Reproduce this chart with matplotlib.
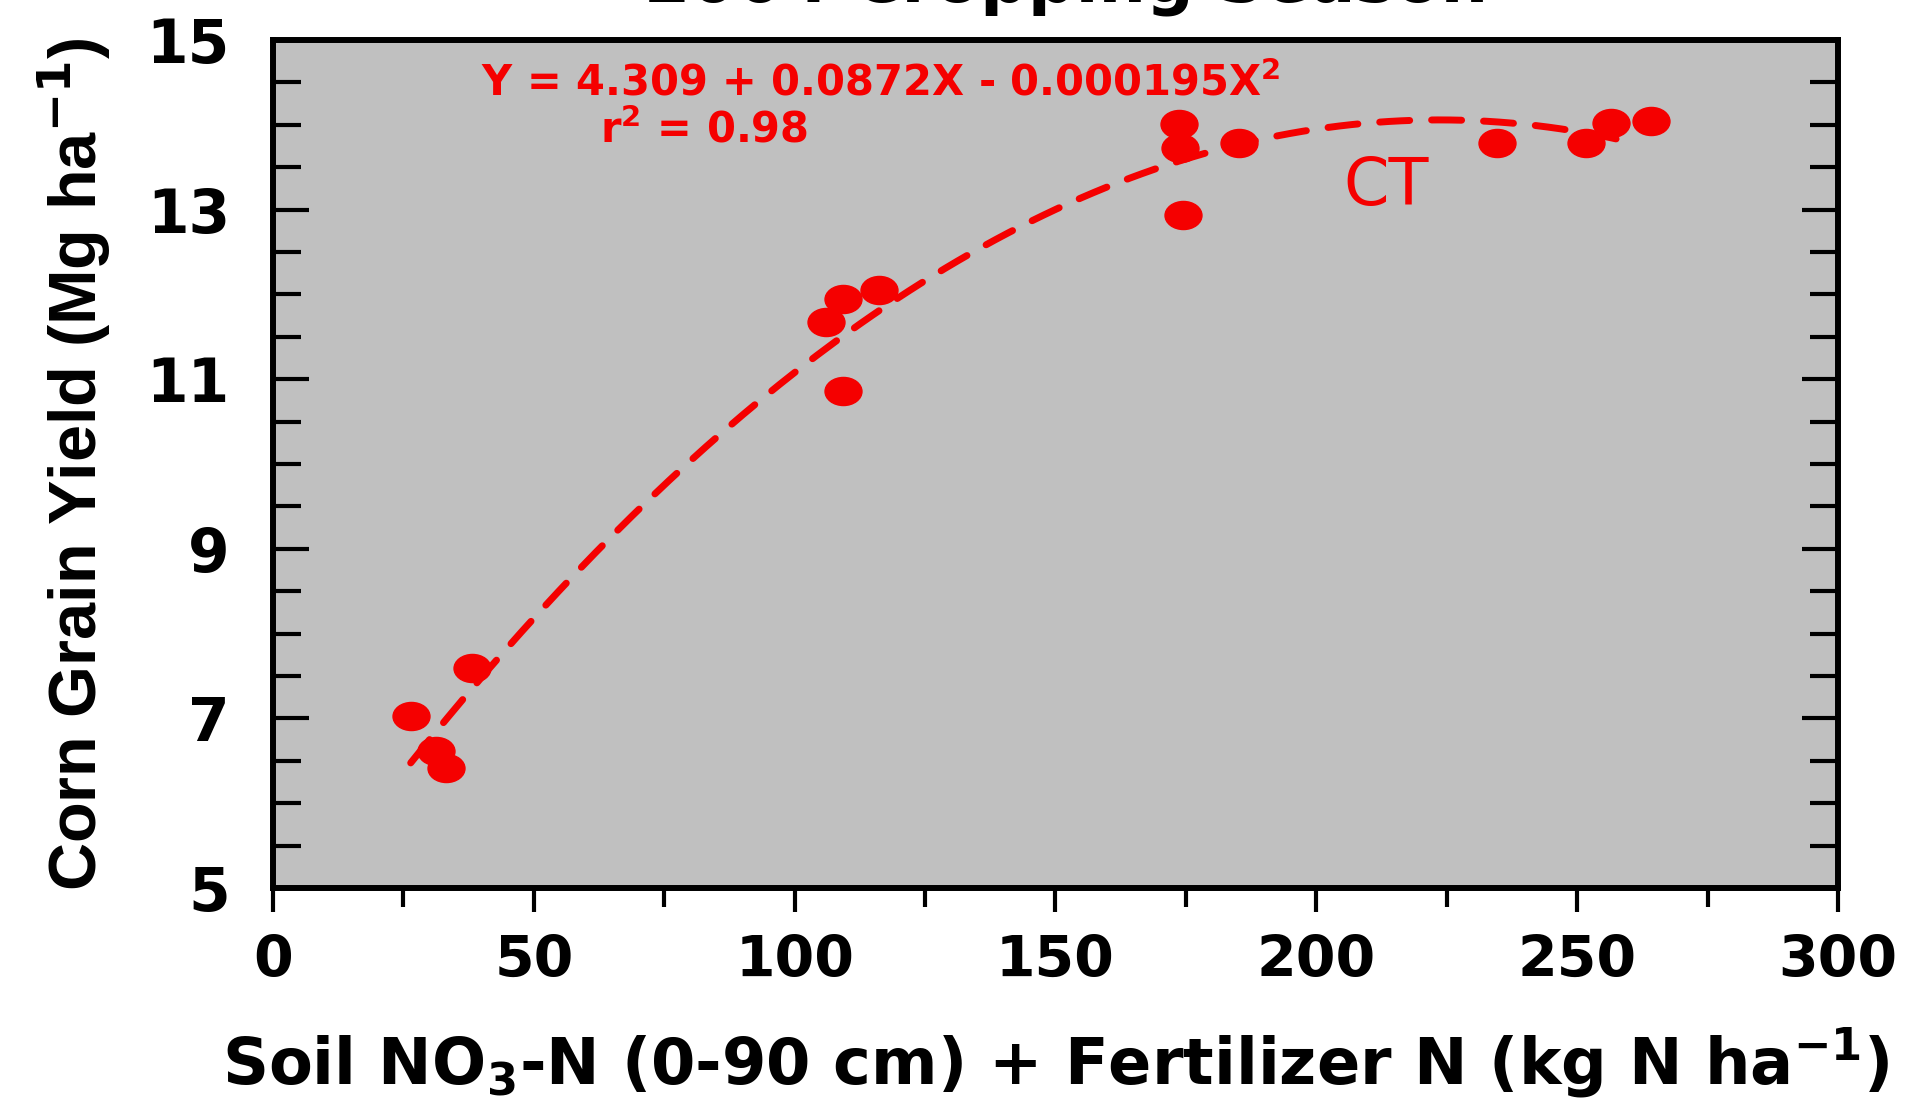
import numpy as np
import matplotlib
matplotlib.use('Agg')
import matplotlib.pyplot as plt
from matplotlib.path import Path
from matplotlib.transforms import Affine2D
from matplotlib.ticker import MultipleLocator, FixedLocator

# data
n_supply = [26.4, 31.3, 33.2, 38.2, 106.0, 109.3, 109.3, 116.2,
            173.7, 173.9, 174.4, 185.2, 234.7, 251.7, 256.4, 264.2]
grain_yield = [7.03, 6.61, 6.41, 7.60, 11.68, 11.95, 10.86, 12.05,
               14.01, 13.73, 12.94, 13.78, 13.78, 13.78, 14.02, 14.04]
# quadratic fit printed on the chart
b0, b1, b2 = 4.309, 0.0872, -0.000195
fit_start, fit_end = 26.4, 261.0
y_labels = [5, 7, 9, 11, 13, 15]

plt.rcParams['font.family'] = ['DejaVu Sans']
plt.rcParams['font.weight'] = 'bold'
plt.rcParams['mathtext.fontset'] = 'custom'
plt.rcParams['mathtext.rm'] = 'DejaVu Sans:bold'
plt.rcParams['mathtext.it'] = 'DejaVu Sans:bold'
plt.rcParams['mathtext.bf'] = 'DejaVu Sans:bold'
plt.rcParams['lines.scale_dashes'] = False

red = '#f50000'
fig = plt.figure(figsize=(19.21, 11.17), dpi=100)
ax = fig.add_axes([0.1421, 0.2050, 0.9568 - 0.1421, 0.9642 - 0.2050])
ax.set_facecolor('#c0c0c0')

# elliptical marker, wider than tall
ell = Path.unit_circle().transformed(Affine2D().scale(1.0, 0.76))

xf = np.linspace(fit_start, fit_end, 200)
yf = b0 + b1 * xf + b2 * xf ** 2
line, = ax.plot(xf, yf, color=red, lw=5, dash_capstyle='round')
line.set_dashes((21.6, 15.8))
ax.plot(n_supply, grain_yield, ls='none', marker=ell, ms=26.6,
        color=red, mec=red)

ax.set_xlim(0, 300)
ax.set_ylim(5, 15)
ax.xaxis.set_major_locator(MultipleLocator(50))
ax.xaxis.set_minor_locator(MultipleLocator(25))
ax.yaxis.set_major_locator(FixedLocator(y_labels))
ax.yaxis.set_minor_locator(MultipleLocator(0.5))
ax.yaxis.set_major_formatter(matplotlib.ticker.FormatStrFormatter('%d'))

ax.tick_params(axis='x', which='major', direction='out', length=17, width=3,
               labelsize=41, pad=16, top=False)
ax.tick_params(axis='x', which='minor', direction='out', length=14, width=3,
               top=False)
ax.tick_params(axis='y', which='major', direction='in', length=26, width=3,
               labelsize=43, pad=31, right=True)
ax.tick_params(axis='y', which='minor', direction='in', length=20, width=3,
               right=True)
for s in ax.spines.values():
    s.set_linewidth(4.3)

ax.set_xlabel('Soil NO$_3$-N (0-90 cm) + Fertilizer N (kg N ha$^{-1}$)',
              fontsize=46, fontweight='bold', labelpad=26)
ax.set_ylabel('Corn Grain Yield (Mg ha$^{-1}$)', fontsize=48,
              fontweight='bold', family=['Liberation Sans'])
ax.yaxis.set_label_coords(-0.102, 0.5)

ax.text(0.133, 0.934, 'Y = 4.309 + 0.0872X - 0.000195X$^2$', transform=ax.transAxes,
        color=red, fontsize=30, fontweight='bold', ha='left', va='baseline')
ax.text(0.209, 0.879, 'r$^2$ = 0.98', transform=ax.transAxes,
        color=red, fontsize=30, fontweight='bold', ha='left', va='baseline')
ax.text(0.684, 0.805, 'CT', transform=ax.transAxes,
        color=red, fontsize=47, fontweight='normal', ha='left', va='baseline')

fig.text(1066 / 1921, 1 - 2 / 1117, '2004 Cropping Season', fontsize=48,
         fontweight='bold', ha='center', va='baseline')

fig.savefig('out.png', dpi=100)
